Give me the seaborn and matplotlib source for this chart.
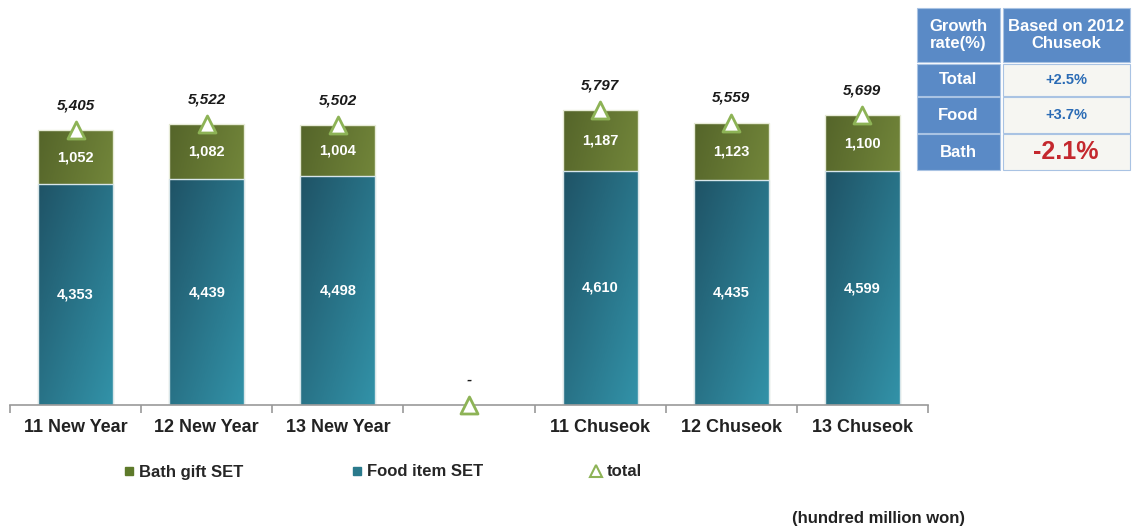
import numpy as np
import pandas as pd
import matplotlib.pyplot as plt
import matplotlib.colors as mcolors
from matplotlib.patches import Rectangle
from matplotlib.lines import Line2D
import seaborn as sns

categories = ["11 New Year", "12 New Year", "13 New Year", " ", "11 Chuseok", "12 Chuseok", "13 Chuseok"]
food = [4353, 4439, 4498, None, 4610, 4435, 4599]
bath = [1052, 1082, 1004, None, 1187, 1123, 1100]
totals = [5405, 5522, 5502, 0, 5797, 5559, 5699]
total_labels = ["5,405", "5,522", "5,502", "-", "5,797", "5,559", "5,699"]

table_header = ["Growth\nrate(%)", "Based on 2012\nChuseok"]
table_rows = ["Total", "Food", "Bath"]
table_values = ["+2.5%", "+3.7%", "-2.1%"]

sns.set_style("white")
plt.rcParams["font.family"] = ["Liberation Sans", "DejaVu Sans"]

df = pd.DataFrame({"cat": categories, "food": food, "bath": bath})
df = df.dropna()
df["stack"] = df["food"] + df["bath"]

fig = plt.figure(figsize=(11.35, 5.29), dpi=100)
ax = fig.add_axes([10 / 1135, 124 / 529, 918 / 1135, 405 / 529])

food_c = "#27778a"
bath_c = "#687b31"
sns.barplot(data=df, x="cat", y="stack", order=categories, color=bath_c, saturation=1,
            width=0.57, edgecolor="#e8ecd8", linewidth=1, ax=ax)
sns.barplot(data=df, x="cat", y="food", order=categories, color=food_c, saturation=1,
            width=0.57, edgecolor="#d8e6ea", linewidth=1, ax=ax)

# diagonal gradient fill on each bar
grad = np.add.outer(np.linspace(0, 1, 50), np.linspace(0, 1, 50)) / 2
n = len(df)
for i, p in enumerate(ax.patches):
    is_bath = i < n
    cmap = mcolors.LinearSegmentedColormap.from_list(
        "g", ["#55652a", "#869c45"] if is_bath else ["#1f5366", "#3292a8"])
    x0, y0 = p.get_x(), p.get_y()
    w, h = p.get_width(), p.get_height()
    im = ax.imshow(grad, cmap=cmap, extent=[x0, x0 + w, y0, y0 + h], aspect="auto",
                   origin="upper", zorder=p.get_zorder() + 0.1 + (0 if is_bath else 0.2))
    im.set_clip_path(p)
    p.set_zorder(p.get_zorder() + (0.2 if is_bath else 0.4))
    p.set_facecolor("none")
ax.set_xlim(-0.5, 6.5)
ax.set_ylim(0, 7970)

xs = np.arange(len(categories))
for x, f, b, t, lab in zip(xs, food, bath, totals, total_labels):
    if f is not None:
        ax.text(x, f / 2, f"{f:,}", ha="center", va="center", color="white",
                fontsize=10.5, fontweight="bold", zorder=5)
        ax.text(x, f + b / 2, f"{b:,}", ha="center", va="center", color="white",
                fontsize=10.5, fontweight="bold", zorder=5)
    ax.text(x, t + 490, lab, ha="center", va="center", color="#1a1a1a",
            fontsize=11, fontweight="bold", fontstyle="italic", zorder=5)

ax.scatter(xs, totals, marker="^", s=150, facecolor="white", edgecolor="#8db356",
           linewidth=2, zorder=6, clip_on=False)

for s in ["top", "right", "left"]:
    ax.spines[s].set_visible(False)
ax.spines["bottom"].set_color("#999999")
ax.spines["bottom"].set_linewidth(1.2)
ax.set_yticks([])
ax.set_xticks(xs)
ax.set_xticklabels(categories, fontsize=13, fontweight="bold", color="#222222")
ax.tick_params(axis="x", which="major", length=0, pad=10)
ax.set_xticks(np.arange(-0.5, 7, 1), minor=True)
ax.tick_params(axis="x", which="minor", bottom=True, length=6, color="#999999", width=1.2)
ax.set_xlabel("")
ax.set_ylabel("")

handles = [
    Line2D([], [], marker="s", linestyle="none", markersize=6, color="#5e7a2a"),
    Line2D([], [], marker="s", linestyle="none", markersize=6, color="#2a7a8c"),
    Line2D([], [], marker="^", linestyle="none", markersize=8, markerfacecolor="white",
           markeredgecolor="#8db356", markeredgewidth=1.5),
]
fig.legend(handles, ["Bath gift SET", "Food item SET", "total"], loc="center left",
           bbox_to_anchor=(106 / 1135, 1 - 472 / 529), ncol=3, frameon=False,
           handletextpad=0.1, handlelength=1.0, columnspacing=6.3,
           prop={"weight": "bold", "size": 12})

fig.text(965 / 1135, 1 - 519 / 529, "(hundred million won)", ha="right", va="center",
         fontsize=12, fontweight="bold", color="#222222")

# growth table
hdr_c = "#5a8ac6"
cell_c = "#f6f6f2"
W, H = 1135, 529
def rect(x0, y0, x1, y1, c):
    fig.patches.append(Rectangle((x0 / W, 1 - y1 / H), (x1 - x0) / W, (y1 - y0) / H,
                                 facecolor=c, edgecolor="#a9c3e3", linewidth=0.8,
                                 transform=fig.transFigure, figure=fig))

rect(917, 8, 1000, 62, hdr_c)
rect(1003, 8, 1130, 62, hdr_c)
fig.text(958 / W, 1 - 35 / H, table_header[0], ha="center", va="center", color="white",
         fontsize=12, fontweight="bold", linespacing=1.15)
fig.text(1066 / W, 1 - 35 / H, table_header[1], ha="center", va="center", color="white",
         fontsize=12, fontweight="bold", linespacing=1.15)
row_y = [(64, 96), (97, 133), (134, 170)]
for (y0, y1), name, val in zip(row_y, table_rows, table_values):
    rect(917, y0, 1000, y1, hdr_c)
    rect(1003, y0, 1130, y1, cell_c)
    fig.text(958 / W, 1 - (y0 + y1) / 2 / H, name, ha="center", va="center", color="white",
             fontsize=12, fontweight="bold")
    neg = val.startswith("-")
    fig.text(1066 / W, 1 - (y0 + y1) / 2 / H, val, ha="center", va="center",
             color="#c4282e" if neg else "#2a6bb5",
             fontsize=18 if neg else 10.5, fontweight="bold")

fig.savefig("out.png", dpi=100)
